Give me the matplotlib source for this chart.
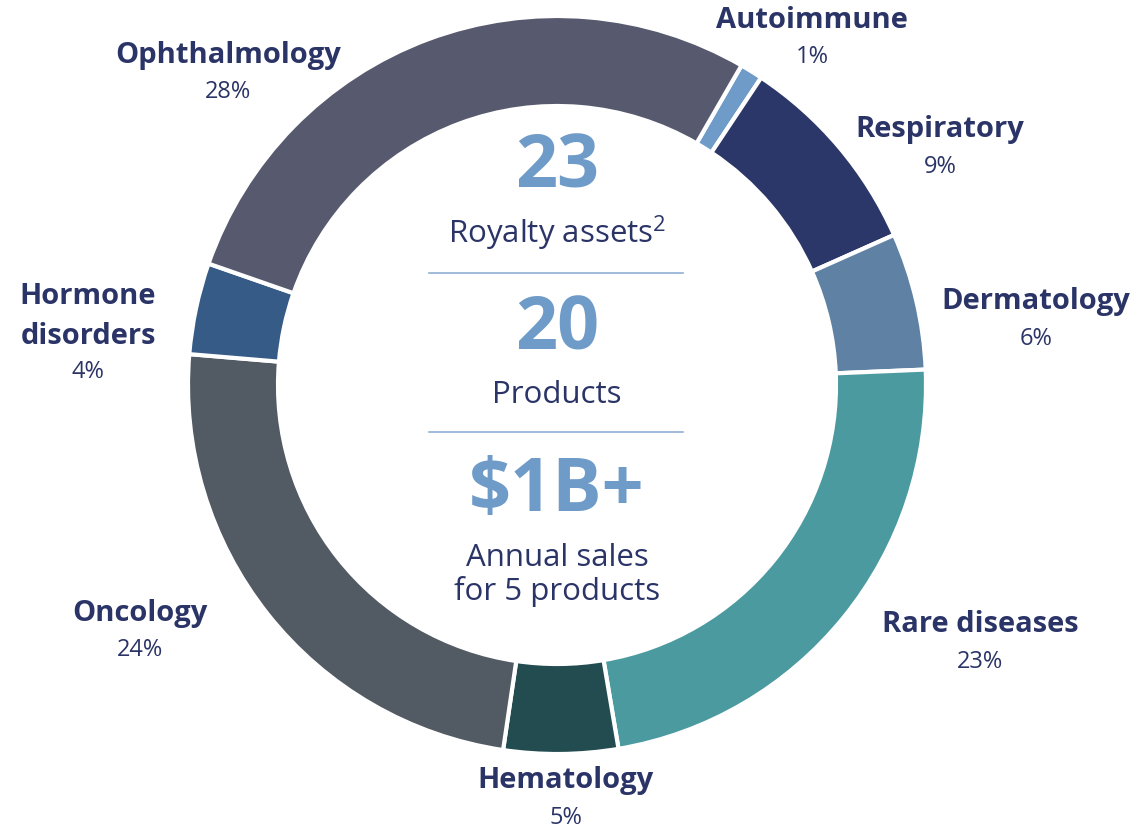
import matplotlib.pyplot as plt

# share of royalty portfolio by therapeutic area (clockwise from Autoimmune)
areas = ['Autoimmune', 'Respiratory', 'Dermatology', 'Rare diseases',
         'Hematology', 'Oncology', 'Hormone\ndisorders', 'Ophthalmology']
shares = [1, 9, 6, 23, 5, 24, 4, 28]
colors = ['#6f9bc8', '#2b3669', '#5f82a4', '#4a9aa0',
          '#224c50', '#525a63', '#355b86', '#575a6e']

# centre figures
big_numbers = ['23', '20', '$1B+']
big_captions = ['Royalty assets$^{2}$', 'Products', 'Annual sales\nfor 5 products']

W, H = 1134, 829
NAVY = '#2b3467'
LIGHT = '#6f9bc8'

plt.rcParams['font.family'] = ['Open Sans', 'DejaVu Sans']
plt.rcParams['mathtext.fontset'] = 'custom'
plt.rcParams['mathtext.rm'] = 'Open Sans'

fig = plt.figure(figsize=(W / 100, H / 100), dpi=100)
ax = fig.add_axes([0, 0, 1, 1])

cx, cy = 557, H - 386
ax.pie(shares, colors=colors, startangle=60, counterclock=False,
       center=(cx, cy), radius=369,
       wedgeprops=dict(width=90, edgecolor='white', linewidth=3))

ax.set_xlim(0, W)
ax.set_ylim(0, H)
ax.set_aspect('auto')
ax.axis('off')

# label positions in pixels (x, y of first name line)
label_pos = [(812, 20), (940, 130), (1036, 302), (980, 625),
             (566, 781), (140, 613), (88, 297), (228, 55)]
for name, share, (lx, ly) in zip(areas, shares, label_pos):
    lines = name.split('\n')
    for i, line in enumerate(lines):
        ax.text(lx, H - (ly + 39 * i), line, ha='center', va='center',
                fontsize=21, fontweight='bold', color=NAVY)
    ax.text(lx, H - (ly + 37 + 38 * (len(lines) - 1)), f'{share}%',
            ha='center', va='center', fontsize=17, color=NAVY)

# centre stats
num_y = [168, 330, 492]
cap_y = [233, 395, 575]
for num, cap, ny, cyy in zip(big_numbers, big_captions, num_y, cap_y):
    ax.text(cx, H - ny, num, ha='center', va='center', fontsize=53,
            fontweight='bold', color=LIGHT)
    ax.text(cx, H - cyy, cap, ha='center', va='center', fontsize=22.5,
            color=NAVY, linespacing=1.1)

for ly in [274, 433]:
    ax.plot([429, 683], [H - ly, H - ly], color='#8fb0d4', linewidth=1.2)

fig.savefig('out.png', dpi=100, facecolor='white')
